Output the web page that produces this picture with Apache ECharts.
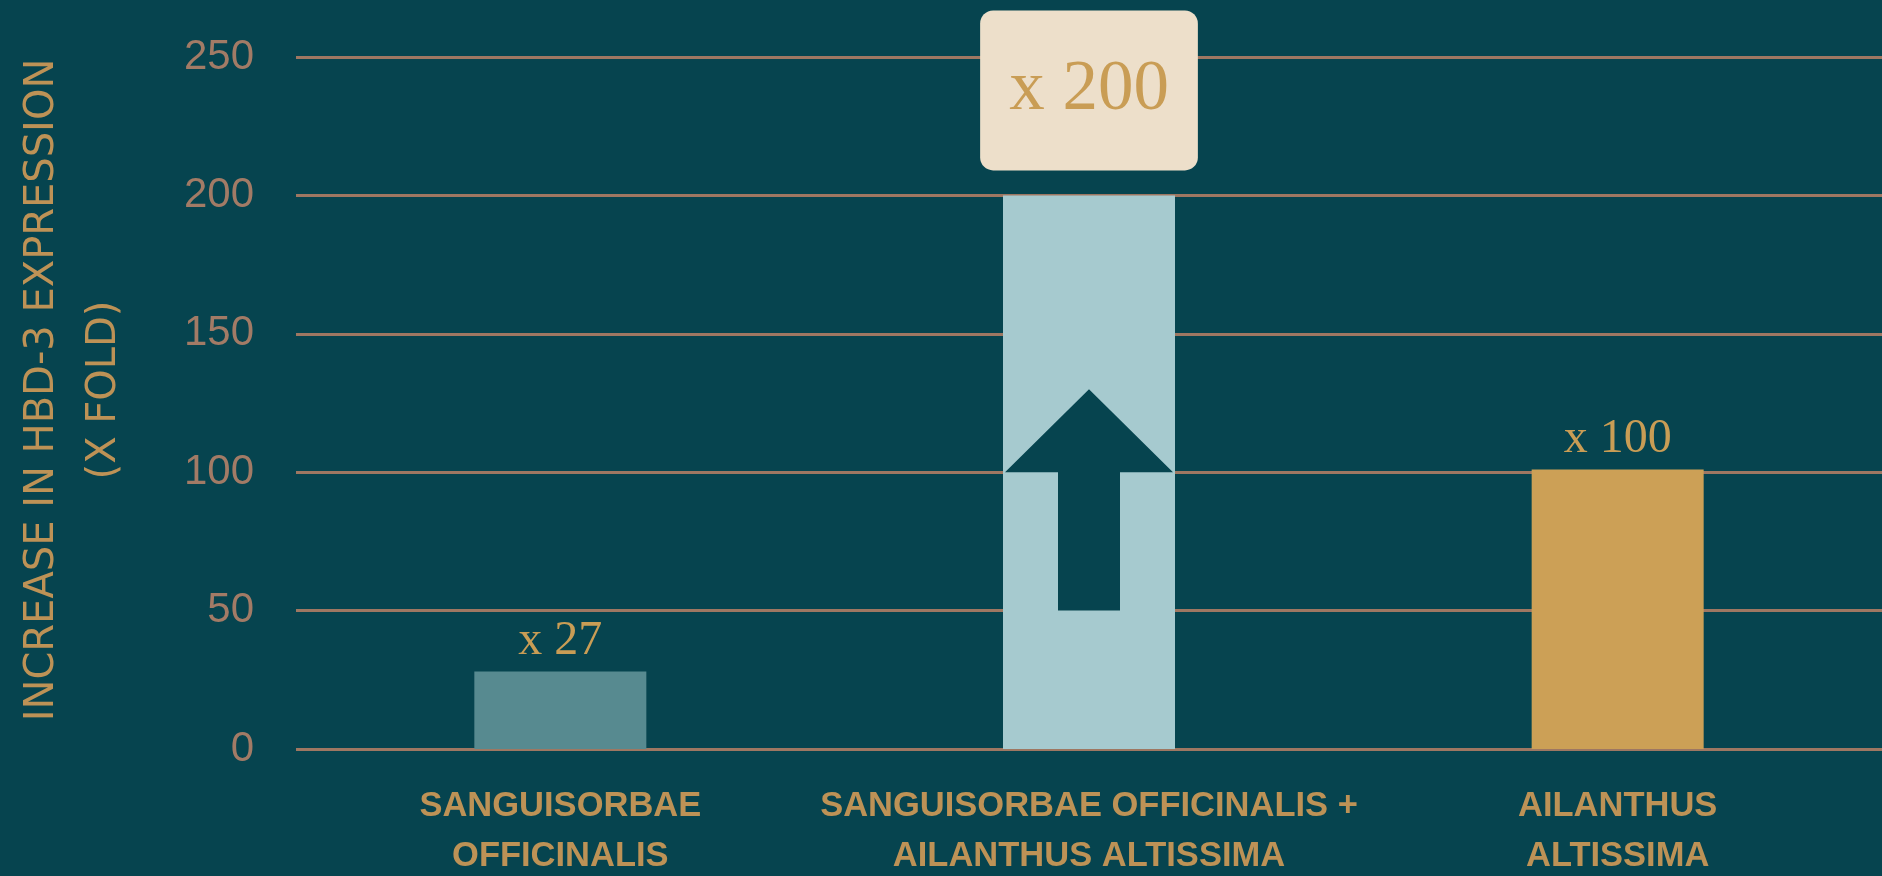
<!DOCTYPE html>
<html>
<head>
<meta charset="utf-8">
<title>HBD-3 expression</title>
<script src="https://cdn.jsdelivr.net/npm/echarts@6/dist/echarts.min.js"></script>
<style>
  html, body { margin: 0; padding: 0; background: #06444f; }
  #main { width: 1882px; height: 876px; }
</style>
</head>
<body>
<div id="main"></div>
<script>
// data
var categories = [
    'SANGUISORBAE\nOFFICINALIS',
    'SANGUISORBAE OFFICINALIS +\nAILANTHUS ALTISSIMA',
    'AILANTHUS\nALTISSIMA'
];
var values = [28, 200, 101];
var valueLabels = ['x 27', 'x 200', 'x 100'];
var yTicks = [0, 50, 100, 150, 200, 250];
// arrow drawn inside the middle bar: [category index, head base, tip, tail]
var arrow = [[1, 100, 130, 50]];

var BG = '#06444f';
var GOLD = '#bd9256';
var barColors = ['#578a90', '#a6cacf', '#cca056'];
var BAR_W = 172;

var myChart = echarts.init(document.getElementById('main'));

var plainLabel = {
    show: true,
    position: 'top',
    distance: 6,
    fontFamily: 'Liberation Serif',
    fontSize: 48,
    color: '#c99d55'
};
var boxLabel = {
    show: true,
    position: 'top',
    distance: 25,
    fontFamily: 'Liberation Serif',
    fontSize: 71,
    color: '#c99d55',
    backgroundColor: '#eddfca',
    borderRadius: 13,
    padding: [44, 29, 45, 29]
};

var barData = values.map(function (v, i) {
    return {
        value: v,
        itemStyle: { color: barColors[i] },
        label: echarts.util.extend({
            formatter: valueLabels[i]
        }, i === 1 ? boxLabel : plainLabel)
    };
});

var option = {
    backgroundColor: BG,
    animation: false,
    grid: { left: 296, right: 0, top: 57, bottom: 127, outerBoundsMode: 'none', containLabel: false },
    xAxis: {
        type: 'category',
        data: categories,
        axisLine: { show: false },
        axisTick: { show: false },
        axisLabel: {
            interval: 0,
            margin: 32,
            color: GOLD,
            fontFamily: 'Liberation Sans',
            fontWeight: 'bold',
            fontSize: 34.5,
            lineHeight: 50
        }
    },
    yAxis: {
        type: 'value',
        min: yTicks[0],
        max: yTicks[yTicks.length - 1],
        interval: yTicks[1] - yTicks[0],
        axisLine: { show: false },
        axisTick: { show: false },
        axisLabel: {
            margin: 42,
            color: '#a27b66',
            fontFamily: 'Liberation Sans',
            fontSize: 42
        },
        splitLine: { lineStyle: { color: '#9e7762', width: 3 } }
    },
    graphic: [{
        type: 'text',
        x: 74,
        y: 390,
        rotation: Math.PI / 2,
        style: {
            text: 'INCREASE IN HBD-3 EXPRESSION\n(X FOLD)',
            fill: GOLD,
            font: '40px "DejaVu Sans"',
            lineHeight: 62,
            textAlign: 'center',
            textVerticalAlign: 'middle'
        }
    }],
    series: [
        {
            type: 'bar',
            barWidth: BAR_W,
            data: barData,
            z: 2
        },
        {
            type: 'custom',
            data: arrow,
            z: 5,
            silent: true,
            renderItem: function (params, api) {
                var base = api.coord([api.value(0), api.value(1)]);
                var tip = api.coord([api.value(0), api.value(2)]);
                var tail = api.coord([api.value(0), api.value(3)]);
                var cx = base[0];
                var hw = BAR_W / 2 - 2;
                var sw = 31;
                return {
                    type: 'polygon',
                    shape: {
                        points: [
                            [cx, tip[1]],
                            [cx + hw, base[1]],
                            [cx + sw, base[1]],
                            [cx + sw, tail[1]],
                            [cx - sw, tail[1]],
                            [cx - sw, base[1]],
                            [cx - hw, base[1]]
                        ]
                    },
                    style: { fill: BG }
                };
            }
        }
    ]
};

myChart.setOption(option);
</script>
</body>
</html>
